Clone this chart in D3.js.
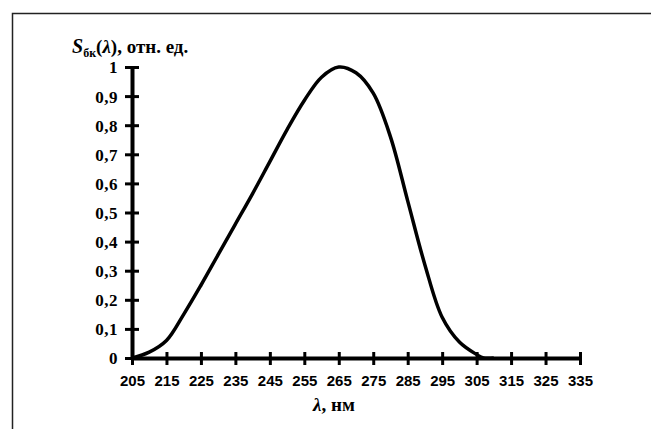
<!DOCTYPE html>
<html><head><meta charset="utf-8">
<script src="https://cdn.jsdelivr.net/npm/d3@7"></script>
<style>body{margin:0;background:#fff}svg{display:block}</style>
</head><body>
<svg id="c" width="651" height="429"></svg>
<script>
const wavelengths = [205,210,215,220,225,230,235,240,245,250,255,260,265,270,275,280,285,290,295,300,305,307,310];
const sensitivity = [0,0.02,0.06,0.15,0.25,0.355,0.46,0.565,0.675,0.785,0.885,0.965,1.0,0.98,0.91,0.76,0.54,0.32,0.14,0.055,0.012,0,0];
const xTicks = [205,215,225,235,245,255,265,275,285,295,305,315,325,335];
const yTicks = [0,0.1,0.2,0.3,0.4,0.5,0.6,0.7,0.8,0.9,1];
const yTickLabels = ["0","0,1","0,2","0,3","0,4","0,5","0,6","0,7","0,8","0,9","1"];

const svg = d3.select("#c");
svg.append("rect").attr("x",12.5).attr("y",13.5).attr("width",700).attr("height",500)
  .attr("fill","none").attr("stroke","#222").attr("stroke-width",1.5);

const x = d3.scaleLinear().domain([205,335]).range([132,580]);
const y = d3.scaleLinear().domain([0,1]).range([358,67]);

// curve
const line = d3.line().x((d,i)=>x(wavelengths[i])).y(d=>y(d)).curve(d3.curveCatmullRom.alpha(0.5));
svg.append("path").datum(sensitivity).attr("d",line).attr("fill","none")
  .attr("stroke","#000").attr("stroke-width",3.5).attr("stroke-linejoin","round");

// y axis
const yAxis = d3.axisLeft(y).tickValues(yTicks).tickSize(0).tickPadding(14)
  .tickFormat((d,i)=>yTickLabels[i]);
const gy = svg.append("g").attr("transform","translate(132,0)").call(yAxis);
gy.select(".domain").attr("stroke","#000").attr("stroke-width",4);
gy.selectAll(".tick").append("line").attr("x1",-7).attr("x2",7).attr("stroke","#000").attr("stroke-width",3);
gy.selectAll(".tick text").attr("font-family","'Liberation Serif','Times New Roman',serif")
  .attr("font-weight","bold").attr("font-size",17).attr("letter-spacing",0.5).attr("fill","#000").attr("dy","0.35em");

// x axis
const xAxis = d3.axisBottom(x).tickValues(xTicks).tickSize(0).tickPadding(17).tickFormat(d3.format("d"));
const gx = svg.append("g").attr("transform","translate(0,358)").call(xAxis);
gx.select(".domain").attr("stroke","#000").attr("stroke-width",4);
gx.selectAll(".tick").append("line").attr("y1",-6).attr("y2",7).attr("stroke","#000").attr("stroke-width",3);
gx.selectAll(".tick text").attr("font-family","'Liberation Sans',Arial,sans-serif")
  .attr("font-weight","bold").attr("font-size",15).attr("fill","#000");

// y title
const t = svg.append("text").attr("x",72).attr("y",53)
  .attr("font-family","'Liberation Serif','Times New Roman',serif").attr("font-weight","bold").attr("font-size",19);
t.append("tspan").attr("font-style","italic").attr("font-size",20).text("S");
t.append("tspan").attr("font-size",12).attr("dy",4).text("бк");
t.append("tspan").attr("dy",-4).text("(");
t.append("tspan").attr("font-style","italic").text("λ");
t.append("tspan").text("), отн. ед.");

// x title
const xt = svg.append("text").attr("x",313).attr("y",411)
  .attr("font-family","'Liberation Serif','Times New Roman',serif").attr("font-weight","bold").attr("font-size",19);
xt.append("tspan").attr("font-style","italic").text("λ");
xt.append("tspan").text(", нм");
</script>
</body></html>
